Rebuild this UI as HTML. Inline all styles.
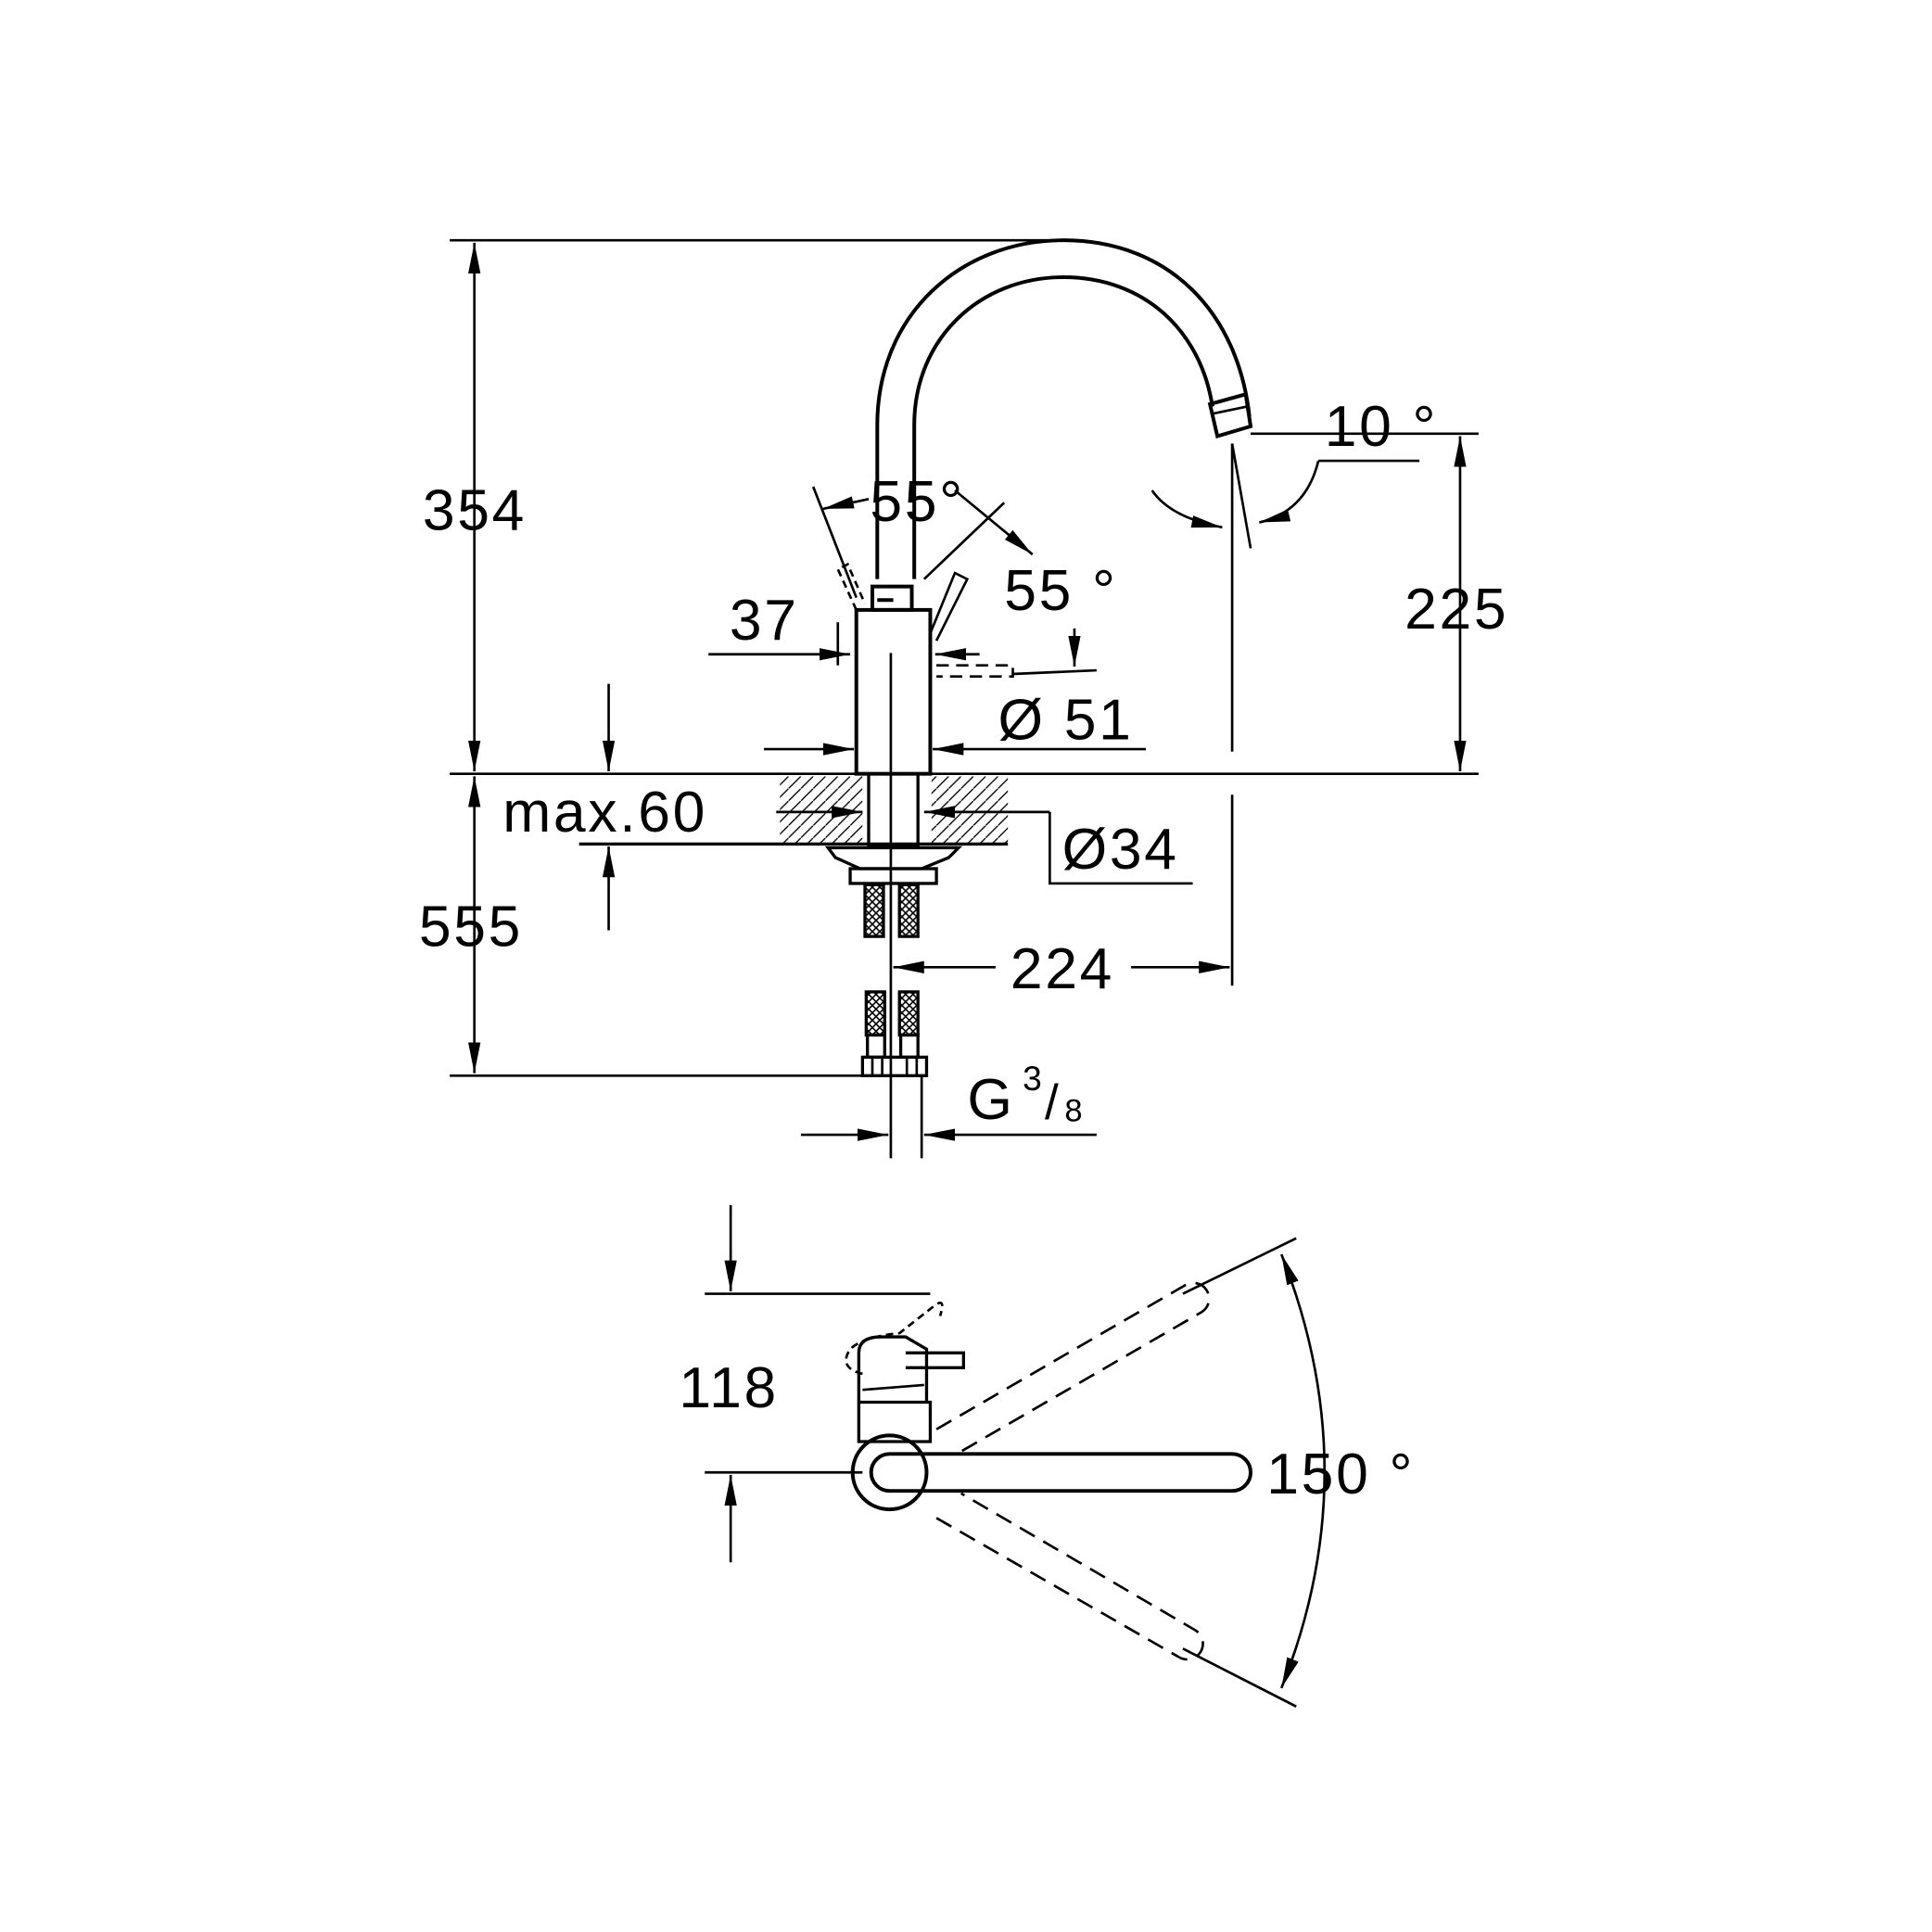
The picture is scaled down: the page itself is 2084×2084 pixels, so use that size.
<!DOCTYPE html>
<html><head><meta charset="utf-8"><style>
html,body{margin:0;padding:0;background:#fff}
svg{display:block}
text{font-family:"Liberation Sans",sans-serif;fill:#000}
</style></head><body>
<svg width="2084" height="2084" viewBox="0 0 1568 1568" xmlns="http://www.w3.org/2000/svg">
<defs>
<marker id="a" markerUnits="userSpaceOnUse" markerWidth="26" markerHeight="12" refX="25" refY="5" orient="auto-start-reverse"><path d="M0,0 L25,5 L0,10 Z" fill="#000"/></marker>
<pattern id="h" width="10" height="10" patternUnits="userSpaceOnUse"><path d="M0,10 L10,0" stroke="#000" stroke-width="1"/></pattern>
<pattern id="x" width="6" height="6" patternUnits="userSpaceOnUse"><path d="M0,0 L6,6 M6,0 L0,6" stroke="#000" stroke-width="1.2"/></pattern>
</defs>
<g fill="none" stroke="#000" stroke-width="2">
<line x1="365" y1="195" x2="850" y2="195"/>
<line x1="385" y1="197" x2="385" y2="626" marker-start="url(#a)" marker-end="url(#a)"/>
<line x1="365" y1="628" x2="1200" y2="628"/>
<line x1="385" y1="630" x2="385" y2="871" marker-start="url(#a)" marker-end="url(#a)"/>
<line x1="365" y1="873" x2="705" y2="873"/>
<path d="M712 470 V345 C712 255 780 195 863 195 C950 195 1005 255 1014 338" stroke-width="3"/>
<path d="M742 470 V345 C742 275 795 225 863 225 C930 225 975 270 984 330" stroke-width="3"/>
<path d="M982 328 L1011 320 L1015 346 L988 354 Z" stroke-width="3"/>
<line x1="983" y1="336" x2="1012" y2="330"/>
<rect x="708" y="476" width="32" height="19" stroke-width="3"/>
<line x1="712" y1="487" x2="725" y2="487" stroke-width="3"/>
<rect x="695" y="495" width="60" height="133" stroke-width="3"/>
<path d="M755 514 L775 465 L785 470 L760 520"/>
<path d="M695 495 L680 462 L688 458 L702 490" stroke-dasharray="6 4"/>
<line x1="660" y1="395" x2="695" y2="485"/>
<line x1="750" y1="470" x2="815" y2="408"/>
<line x1="668" y1="413" x2="705" y2="405" marker-start="url(#a)"/>
<line x1="775" y1="398" x2="838" y2="450" marker-end="url(#a)"/>
<line x1="575" y1="531" x2="690" y2="531" marker-end="url(#a)"/>
<line x1="759" y1="531" x2="795" y2="531" marker-start="url(#a)"/>
<line x1="680" y1="505" x2="680" y2="540"/>
<path d="M760 540 H822 V549 H760" stroke-dasharray="10 6"/>
<line x1="822" y1="547" x2="890" y2="544"/>
<line x1="872" y1="510" x2="872" y2="541" marker-end="url(#a)"/>
<line x1="620" y1="608" x2="693" y2="608" marker-end="url(#a)"/>
<line x1="757" y1="608" x2="930" y2="608" marker-start="url(#a)"/>
<rect x="633" y="630" width="185" height="55" fill="url(#h)" stroke="none"/>
<rect x="700" y="630" width="56" height="55" fill="#fff" stroke="none"/>
<rect x="705" y="628" width="40" height="58" stroke-width="2.5"/>
<line x1="470" y1="685" x2="818" y2="685" stroke-width="2.5"/>
<line x1="630" y1="659" x2="700" y2="659" marker-end="url(#a)"/>
<line x1="750" y1="659" x2="852" y2="659" marker-start="url(#a)"/>
<path d="M852 659 V717 H968"/>
<line x1="494" y1="555" x2="494" y2="626" marker-end="url(#a)"/>
<line x1="494" y1="755" x2="494" y2="687" marker-end="url(#a)"/>
<path d="M672 688 H778 L770 696 L748 705 H698 L678 696 Z" stroke-width="2.5"/>
<rect x="690" y="705" width="70" height="12" stroke-width="2.5"/>
<rect x="702" y="718" width="15" height="42" fill="url(#x)" stroke-width="2.5"/>
<rect x="730" y="718" width="15" height="42" fill="url(#x)" stroke-width="2.5"/>
<rect x="703" y="805" width="15" height="35" fill="url(#x)" stroke-width="2.5"/>
<rect x="730" y="805" width="15" height="35" fill="url(#x)" stroke-width="2.5"/>
<rect x="704" y="840" width="14" height="18" stroke-width="2.5"/>
<rect x="731" y="840" width="14" height="18" stroke-width="2.5"/>
<rect x="700" y="858" width="52" height="15" stroke-width="2.5"/>
<line x1="708" y1="858" x2="708" y2="873"/><line x1="716" y1="858" x2="716" y2="873"/><line x1="736" y1="858" x2="736" y2="873"/><line x1="744" y1="858" x2="744" y2="873"/>
<line x1="723" y1="530" x2="723" y2="940"/>
<line x1="748" y1="873" x2="748" y2="940"/>
<line x1="650" y1="921" x2="721" y2="921" marker-end="url(#a)"/>
<line x1="750" y1="921" x2="890" y2="921" marker-start="url(#a)"/>
<line x1="725" y1="785" x2="808" y2="785" marker-start="url(#a)"/>
<line x1="918" y1="785" x2="998" y2="785" marker-end="url(#a)"/>
<line x1="1000" y1="645" x2="1000" y2="800"/>
<line x1="1000" y1="360" x2="1000" y2="610"/>
<line x1="1015" y1="352" x2="1200" y2="352"/>
<line x1="1000" y1="360" x2="1015" y2="445"/>
<line x1="1070" y1="374" x2="1152" y2="374"/>
<path d="M1070 374 Q1060 415 1022 424" marker-end="url(#a)"/>
<path d="M935 398 Q950 420 992 428" marker-end="url(#a)"/>
<line x1="1185" y1="354" x2="1185" y2="626" marker-start="url(#a)" marker-end="url(#a)"/>
<line x1="572" y1="1050" x2="755" y2="1050"/>
<line x1="572" y1="1195" x2="700" y2="1195"/>
<line x1="593" y1="978" x2="593" y2="1048" marker-end="url(#a)"/>
<line x1="593" y1="1268" x2="593" y2="1197" marker-end="url(#a)"/>
<circle cx="722" cy="1195" r="30" stroke-width="3"/>
<path d="M722 1180 H1000 A15 15 0 0 1 1000 1210 H722 A15 15 0 0 1 722 1180 Z" stroke-width="3"/>
<path d="M697 1138 H755 V1170 H697 Z" stroke-width="2.5"/>
<path d="M697 1138 V1098 Q697 1085 715 1085 L735 1085 L752 1095 L752 1138" stroke-width="2.5"/>
<path d="M735 1098 H782 V1110 H735" stroke-width="2.5"/>
<path d="M700 1115 Q680 1110 690 1095 Q700 1085 730 1082 L758 1060 Q768 1052 763 1068" stroke-dasharray="6 4"/>
<line x1="700" y1="1128" x2="750" y2="1124"/>
<g stroke-dasharray="14 8" stroke-width="2">
<path d="M760 1160 L962 1043 A12 12 0 0 1 975 1065 L780 1178"/>
<path d="M760 1232 L957 1345 A12 12 0 0 0 970 1323 L780 1212"/>
</g>
<line x1="960" y1="1050" x2="1052" y2="1005"/>
<line x1="960" y1="1338" x2="1052" y2="1385"/>
<path d="M1040 1018 Q1110 1195 1040 1370" marker-start="url(#a)" marker-end="url(#a)"/>
</g>
<g font-size="47" letter-spacing="2">
<text x="343" y="430">354</text>
<text x="340" y="768">555</text>
<text x="408" y="675">max.60</text>
<text x="706" y="423">55°</text>
<text x="815" y="495">55 °</text>
<text x="592" y="519">37</text>
<text x="810" y="600">Ø 51</text>
<text x="862" y="705">Ø34</text>
<text x="820" y="802">224</text>
<text x="1140" y="510">225</text>
<text x="1075" y="362">10 °</text>
<text x="785" y="908">G</text>
<text x="551" y="1142">118</text>
<text x="1028" y="1212">150 °</text>
</g>
<text x="830" y="885" font-size="28">3</text>
<text x="848" y="908" font-size="40">/</text>
<text x="864" y="910" font-size="26">8</text>
</svg>
</body></html>
